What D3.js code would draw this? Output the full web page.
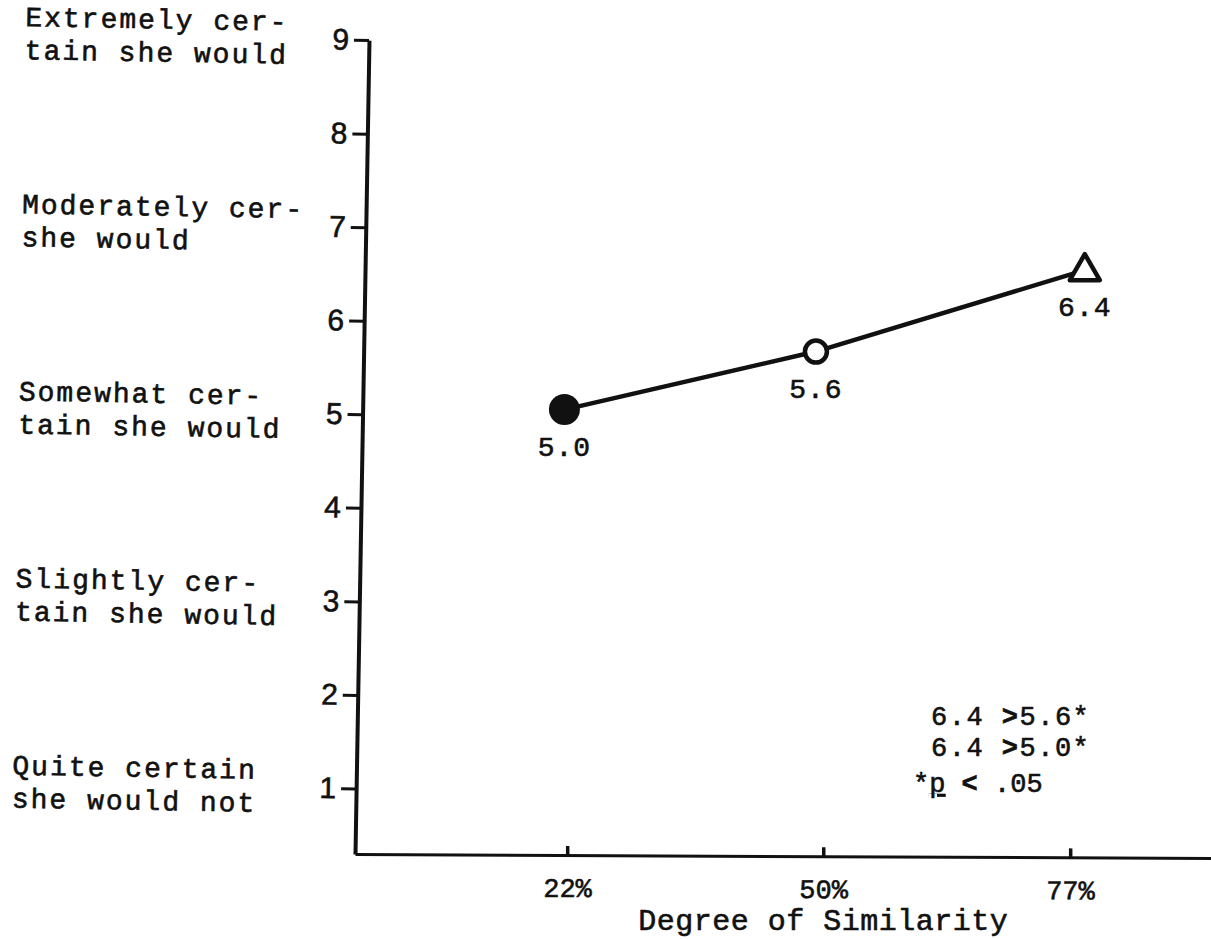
<!DOCTYPE html>
<html>
<head>
<meta charset="utf-8">
<script src="https://cdn.jsdelivr.net/npm/d3@7"></script>
<style>
  html, body { margin: 0; padding: 0; background: #fff; }
  svg { display: block; }
  .mono { font-family: "Liberation Mono", "DejaVu Sans Mono", monospace; fill: #111; stroke: #111; stroke-width: 0.6px; }
</style>
</head>
<body>
<svg id="chart" width="1211" height="939"></svg>
<script>
// ---- data ----
const similarityTicks = [22, 50, 77];
const similarityLabels = ["22%", "50%", "77%"];
const pointX = [21.7, 49.2, 78.6];          // plotted position along similarity axis
const pointY = [5.05, 5.67, 6.54];          // plotted mean certainty
const pointLabels = ["5.0", "5.6", "6.4"];
const markerTypes = ["filled", "open", "triangle"];
const yTicks = [1, 2, 3, 4, 5, 6, 7, 8, 9];
const anchorValues = [9, 7, 5, 3, 1];
const anchorLines = [
  ["Extremely cer-", "tain she would"],
  ["Moderately cer-", "she would"],
  ["Somewhat cer-", "tain she would"],
  ["Slightly cer-", "tain she would"],
  ["Quite certain", "she would not"]
];
const comparisons = [["6.4 ", ">", "5.6*"], ["6.4 ", ">", "5.0*"]];
const xTitle = "Degree of Similarity";

// ---- layout ----
const W = 1211, H = 939;
const ox = 355, oy = 854;
const svg = d3.select("#chart");
svg.append("rect").attr("width", W).attr("height", H).attr("fill", "#fff");

const y = d3.scaleLinear().domain([0.3, 9]).range([oy, 40]);
const x = d3.scaleLinear().domain([-1.2, 92.4]).range([ox, W]);

// ---- y axis (slightly tilted like the original drawing) ----
const yg = svg.append("g").attr("transform", `rotate(0.985, ${ox}, ${oy}) translate(${ox},0)`);
yg.call(d3.axisLeft(y).tickValues(yTicks).tickSize(15).tickSizeOuter(0).tickPadding(5).tickFormat(d3.format("d")));
yg.attr("font-size", 30).attr("font-family", "'Liberation Sans', Arial, sans-serif");
yg.select(".domain").attr("stroke", "#111").attr("stroke-width", 4);
yg.selectAll(".tick line").attr("stroke", "#111").attr("stroke-width", 3);
yg.selectAll(".tick text")
  .attr("font-size", 30).attr("fill", "#111")
  .attr("stroke", "#111").attr("stroke-width", 0.6);

// anchor labels on the left
const ag = svg.append("g").attr("transform", `rotate(0.985, ${ox}, ${oy})`);
anchorValues.forEach((v, i) => {
  anchorLines[i].forEach((ln, j) => {
    ag.append("text").attr("class", "mono")
      .attr("font-size", 28).attr("letter-spacing", 2)
      .attr("x", 11).attr("y", y(v) - 8 + j * 33).text(ln);
  });
});

// ---- x axis ----
const xg = svg.append("g").attr("transform", `rotate(0.27, ${ox}, ${oy}) translate(0,${oy})`);
xg.call(d3.axisBottom(x).tickValues(similarityTicks).tickSize(-9).tickSizeOuter(0)
  .tickFormat((d, i) => similarityLabels[i]));
xg.attr("font-size", 27);
xg.select(".domain").attr("stroke", "#111").attr("stroke-width", 3);
xg.selectAll(".tick line").attr("stroke", "#111").attr("stroke-width", 3.5);
xg.selectAll(".tick text")
  .attr("class", "mono").attr("font-size", 27).attr("y", 42).attr("dy", 0);

svg.append("text").attr("class", "mono")
  .attr("x", x(50)).attr("y", 930).attr("text-anchor", "middle")
  .attr("font-size", 30).attr("letter-spacing", 0.5).text(xTitle);

// ---- line and markers ----
const pts = pointX.map((v, i) => ({ x: v, y: pointY[i], label: pointLabels[i], type: markerTypes[i] }));
svg.append("path").datum(pts)
  .attr("fill", "none").attr("stroke", "#111").attr("stroke-width", 4.5)
  .attr("d", d3.line().x(d => x(d.x)).y(d => y(d.y)));

pts.forEach(d => {
  const cx = x(d.x), cy = y(d.y);
  if (d.type === "filled") {
    svg.append("circle").attr("cx", cx).attr("cy", cy).attr("r", 15.5).attr("fill", "#111");
  } else if (d.type === "open") {
    svg.append("circle").attr("cx", cx).attr("cy", cy).attr("r", 11)
      .attr("fill", "#fff").attr("stroke", "#111").attr("stroke-width", 4.5);
  } else {
    svg.append("path")
      .attr("d", `M${cx},${cy - 16} L${cx + 15},${cy + 10} L${cx - 15},${cy + 10} Z`)
      .attr("fill", "#fff").attr("stroke", "#111").attr("stroke-width", 4.5)
      .attr("stroke-linejoin", "round");
  }
  svg.append("text").attr("class", "mono")
    .attr("x", cx).attr("y", cy + 46).attr("text-anchor", "middle")
    .attr("font-size", 28).attr("letter-spacing", 1).text(d.label);
});

// ---- significance notes ----
comparisons.forEach((parts, i) => {
  const t = svg.append("text").attr("class", "mono")
    .attr("x", 931).attr("y", 725 + i * 31).attr("font-size", 27).attr("letter-spacing", 1.5);
  t.append("tspan").text(parts[0]);
  t.append("tspan").attr("font-weight", "bold").text(parts[1]);
  t.append("tspan").text(parts[2]);
});
const pn = svg.append("text").attr("class", "mono")
  .attr("x", 913).attr("y", 792).attr("font-size", 27);
pn.append("tspan").text("*");
pn.append("tspan").attr("text-decoration", "underline").text("p");
pn.append("tspan").text(" ");
pn.append("tspan").attr("font-weight", "bold").text("<");
pn.append("tspan").text(" .05");
</script>
</body>
</html>
